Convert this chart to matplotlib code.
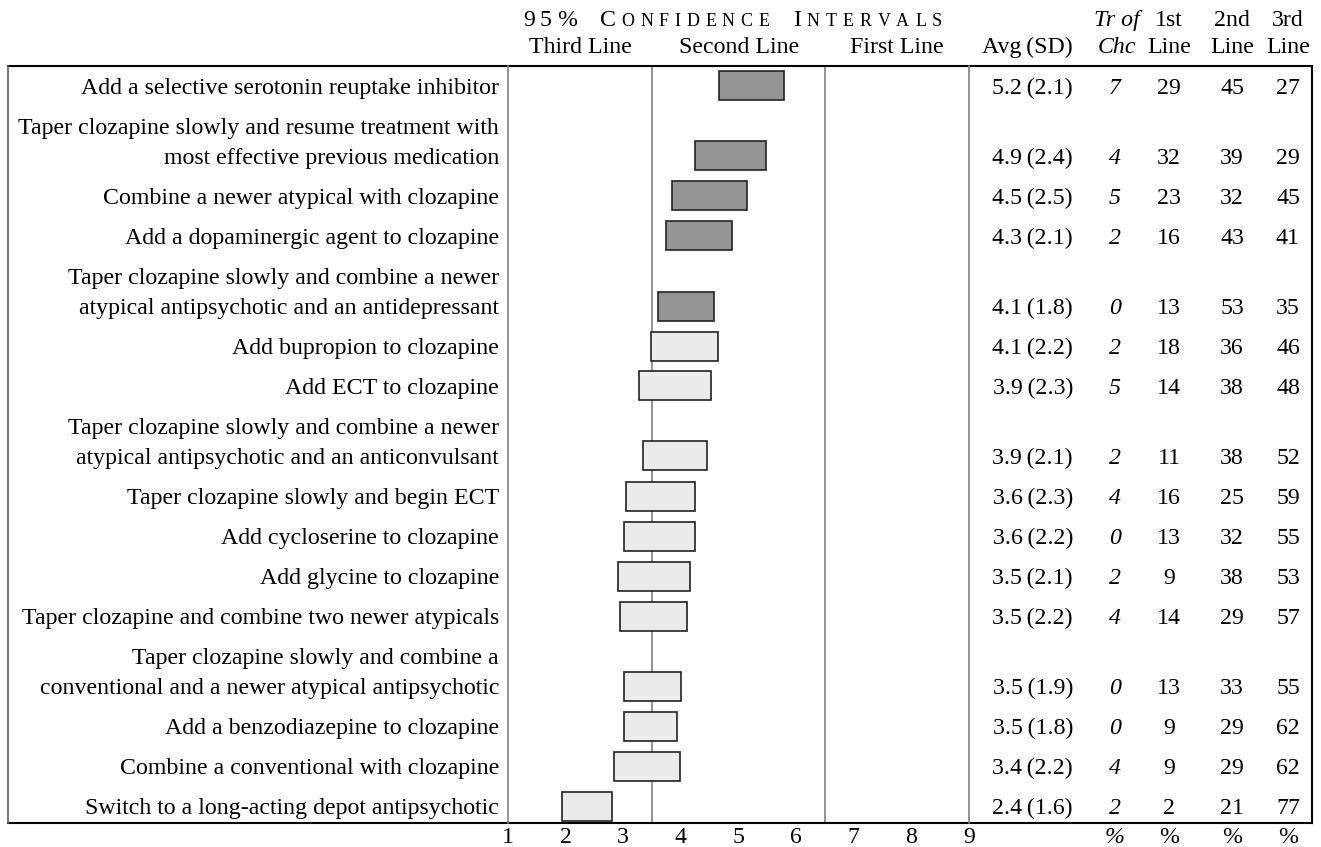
import matplotlib.pyplot as plt
from matplotlib import transforms
from matplotlib.lines import Line2D

plt.rcParams['font.family'] = ['Liberation Serif', 'DejaVu Serif']

labels = [
    "Add a selective serotonin reuptake inhibitor",
    "Taper clozapine slowly and resume treatment with\nmost effective previous medication",
    "Combine a newer atypical with clozapine",
    "Add a dopaminergic agent to clozapine",
    "Taper clozapine slowly and combine a newer\natypical antipsychotic and an antidepressant",
    "Add bupropion to clozapine",
    "Add ECT to clozapine",
    "Taper clozapine slowly and combine a newer\natypical antipsychotic and an anticonvulsant",
    "Taper clozapine slowly and begin ECT",
    "Add cycloserine to clozapine",
    "Add glycine to clozapine",
    "Taper clozapine and combine two newer atypicals",
    "Taper clozapine slowly and combine a\nconventional and a newer atypical antipsychotic",
    "Add a benzodiazepine to clozapine",
    "Combine a conventional with clozapine",
    "Switch to a long-acting depot antipsychotic",
]
ci_low = [4.67, 4.24, 3.84, 3.74, 3.60, 3.48, 3.27, 3.34, 3.04, 3.01, 2.91, 2.94, 3.01, 3.01, 2.84, 1.93]
ci_high = [5.79, 5.48, 5.15, 4.88, 4.58, 4.65, 4.52, 4.45, 4.25, 4.25, 4.15, 4.11, 4.01, 3.94, 3.98, 2.81]
avg = [5.2, 4.9, 4.5, 4.3, 4.1, 4.1, 3.9, 3.9, 3.6, 3.6, 3.5, 3.5, 3.5, 3.5, 3.4, 2.4]
sd = [2.1, 2.4, 2.5, 2.1, 1.8, 2.2, 2.3, 2.1, 2.3, 2.2, 2.1, 2.2, 1.9, 1.8, 2.2, 1.6]
tr_of_chc = [7, 4, 5, 2, 0, 2, 5, 2, 4, 0, 2, 4, 0, 0, 4, 2]
first_line = [29, 32, 23, 16, 13, 18, 14, 11, 16, 13, 9, 14, 13, 9, 9, 2]
second_line = [45, 39, 32, 43, 53, 36, 38, 38, 25, 32, 38, 29, 33, 29, 29, 21]
third_line = [27, 29, 45, 41, 35, 46, 48, 52, 59, 55, 53, 57, 55, 62, 62, 77]
ticks = [1, 2, 3, 4, 5, 6, 7, 8, 9]

W, H = 1321, 847
FS = 17.2
SMALL = 13
fig = plt.figure(figsize=(W / 100, H / 100), dpi=100)
renderer = fig.canvas.get_renderer()

# interval panel, y measured in pixels from the top of the table
top, bottom = 66, 823
left, right = 508, 969
ax = fig.add_axes([left / W, 1 - bottom / H, (right - left) / W, (bottom - top) / H])
ax.set_xlim(1, 9)
ax.set_ylim(bottom - top, 0)
for s in ax.spines.values():
    s.set_visible(False)
ax.set_yticks([])
ax.set_xticks(ticks)
ax.tick_params(axis='x', length=0, labelsize=FS, pad=3)

# row positions: bar sits on the last text line of each row
ys = []
cur = 0
for lab in labels:
    n = lab.count('\n') + 1
    cur += 40 + 30 * (n - 1)
    ys.append(cur - 20)

for lo, hi, y in zip(ci_low, ci_high, ys):
    col = '#959595' if lo > 3.5 else '#ebebeb'
    ax.barh(y, hi - lo, left=lo, height=29, color=col, edgecolor='#222222', linewidth=1.2, zorder=3)

ax.axvline(3.5, color='#808080', lw=1.2, zorder=1)
ax.axvline(6.5, color='#808080', lw=1.2, zorder=1)

trans = transforms.blended_transform_factory(fig.transFigure, ax.transData)

def px(x):
    return x / W

BL = 8  # baseline offset below row centre

for lab, y in zip(labels, ys):
    lines = lab.split('\n')
    for k, line in enumerate(reversed(lines)):
        fig.text(px(499), y - 30 * k + BL, line, transform=trans, ha='right', va='baseline', fontsize=FS)

for i, y in enumerate(ys):
    yb = y + BL
    fig.text(px(1073), yb, "%.1f\u2009(%.1f)" % (avg[i], sd[i]), transform=trans, ha='right', va='baseline', fontsize=FS)
    fig.text(px(1115), yb, str(tr_of_chc[i]), transform=trans, ha='center', va='baseline', fontsize=FS, style='italic')
    fig.text(px(1169), yb, str(first_line[i]), transform=trans, ha='center', va='baseline', fontsize=FS)
    fig.text(px(1232), yb, str(second_line[i]), transform=trans, ha='center', va='baseline', fontsize=FS)
    fig.text(px(1288), yb, str(third_line[i]), transform=trans, ha='center', va='baseline', fontsize=FS)

# frame lines
def fline(x0, x1, y0, y1, color='black', lw=1.5):
    fig.add_artist(Line2D([px(x0), px(x1)], [1 - y0 / H, 1 - y1 / H], color=color, lw=lw))

fline(8, 1312, top, top)
fline(8, 1312, bottom, bottom)
fline(8, 8, top, bottom, color='#606060', lw=1.2)
fline(left, left, top, bottom, color='#808080', lw=1.2)
fline(right, right, top, bottom, color='#808080', lw=1.2)
fline(1312, 1312, top, bottom, color='black', lw=1.5)

# header
def htext(x, y, s, **kw):
    return fig.text(px(x), 1 - y / H, s, fontsize=kw.pop('fontsize', FS), **kw)

def tracked(x, y, parts, gap):
    # letter-spaced small caps: parts are (text, size)
    for txt, size in parts:
        for ch in txt:
            t = htext(x, y, ch, ha='left', va='baseline', fontsize=size)
            x += t.get_window_extent(renderer).width + gap

tracked(523, 26, [("95%", FS)], 5)
tracked(600, 26, [("C", FS), ("ONFIDENCE", SMALL)], 5.7)
tracked(793, 26, [("I", FS), ("NTERVALS", SMALL)], 5.9)

htext(580, 53, "Third Line", ha='center', va='baseline')
htext(739, 53, "Second Line", ha='center', va='baseline')
htext(897, 53, "First Line", ha='center', va='baseline')
htext(1073, 53, "Avg\u2009(SD)", ha='right', va='baseline')
htext(1117, 26, "Tr of", ha='center', va='baseline', style='italic')
htext(1117, 53, "Chc", ha='center', va='baseline', style='italic')
htext(1169, 26, "1st", ha='center', va='baseline')
htext(1169, 53, "Line", ha='center', va='baseline')
htext(1232, 26, "2nd", ha='center', va='baseline')
htext(1232, 53, "Line", ha='center', va='baseline')
htext(1288, 26, "3rd", ha='center', va='baseline')
htext(1288, 53, "Line", ha='center', va='baseline')

# percent signs under the share columns
htext(1115, 843, "%", ha='center', va='baseline', style='italic')
htext(1169, 843, "%", ha='center', va='baseline')
htext(1232, 843, "%", ha='center', va='baseline')
htext(1288, 843, "%", ha='center', va='baseline')

fig.savefig('out.png', dpi=100)
